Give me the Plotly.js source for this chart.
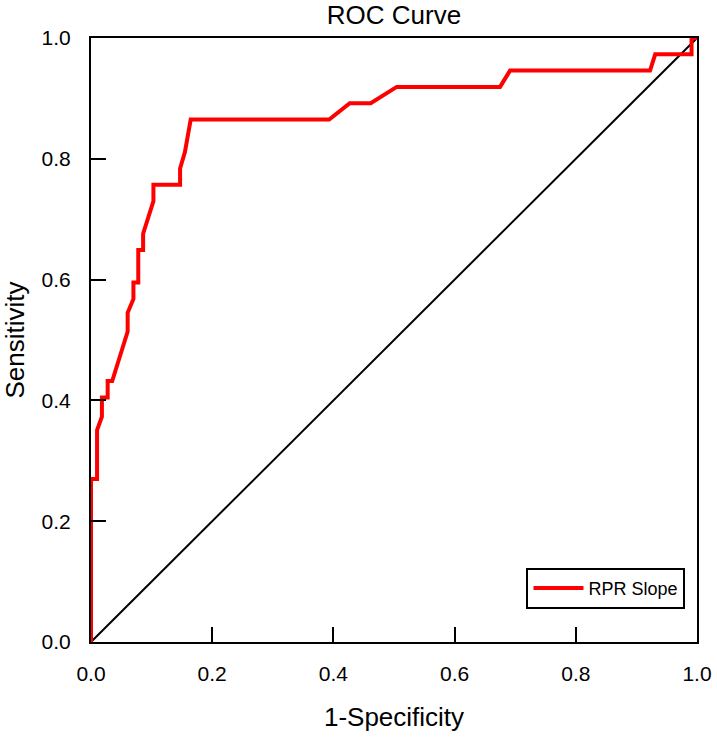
<!DOCTYPE html>
<html>
<head>
<meta charset="utf-8">
<script src="https://cdn.plot.ly/plotly-3.0.1.min.js"></script>
<style>body{margin:0;background:#fff;}#chart{width:717px;height:737px;}</style>
</head>
<body>
<div id="chart"></div>
<script>
const fpr = [0, 0, 0.01, 0.01, 0.018, 0.018, 0.0275, 0.0275, 0.035, 0.0605, 0.0605, 0.07, 0.07, 0.078, 0.078, 0.086, 0.086, 0.103, 0.103, 0.147, 0.147, 0.155, 0.1645, 0.393, 0.427, 0.4615, 0.5045, 0.675, 0.6915, 0.9225, 0.931, 0.991, 0.991, 1.0];
const tpr = [0, 0.27, 0.27, 0.351, 0.373, 0.405, 0.405, 0.432, 0.432, 0.514, 0.545, 0.568, 0.595, 0.595, 0.649, 0.649, 0.676, 0.73, 0.757, 0.757, 0.784, 0.811, 0.865, 0.865, 0.892, 0.892, 0.919, 0.919, 0.946, 0.946, 0.973, 0.973, 1.0, 1.0];
const refX = [0, 1];
const refY = [0, 1];
const seriesName = "RPR Slope";

const FONT = 'Arial, Liberation Sans, sans-serif';

const traces = [
  {x: refX, y: refY, mode: 'lines', line: {color: '#000', width: 2}, showlegend: false, hoverinfo: 'skip'},
  {x: fpr, y: tpr, mode: 'lines', name: seriesName, line: {color: '#ff0000', width: 4}}
];

const axisCommon = {
  range: [0, 1], dtick: 0.2, tick0: 0, tickformat: '.1f',
  ticks: 'inside', ticklen: 15, tickwidth: 2, tickcolor: '#000',
  showline: true, linecolor: '#000', linewidth: 2, mirror: true,
  showgrid: false, zeroline: false,
  tickfont: {family: FONT, size: 21, color: '#000'}
};

const layout = {
  width: 717, height: 737,
  margin: {l: 91, r: 20, t: 38, b: 95},
  paper_bgcolor: '#fff', plot_bgcolor: '#fff',
  title: {text: 'ROC Curve', x: 0.5, xref: 'paper', xanchor: 'center', y: 1 - 15/737, yref: 'container', yanchor: 'middle',
    font: {family: FONT, size: 26, color: '#000'}},
  xaxis: Object.assign({}, axisCommon, {
    ticklabelstandoff: 12,
    title: {text: '1-Specificity', standoff: 24, font: {family: FONT, size: 26, color: '#000'}}
  }),
  yaxis: Object.assign({}, axisCommon, {
    ticklabelstandoff: 14,
    title: {text: 'Sensitivity', standoff: 16, font: {family: FONT, size: 26, color: '#000'}}
  }),
  showlegend: true,
  legend: {x: 0.981, y: 0.055, xanchor: 'right', yanchor: 'bottom', bgcolor: '#fff',
    bordercolor: '#000', borderwidth: 2, itemwidth: 50,
    font: {family: FONT, size: 18, color: '#000'}}
};

Plotly.newPlot('chart', traces, layout, {displayModeBar: false, staticPlot: true});
</script>
</body>
</html>
